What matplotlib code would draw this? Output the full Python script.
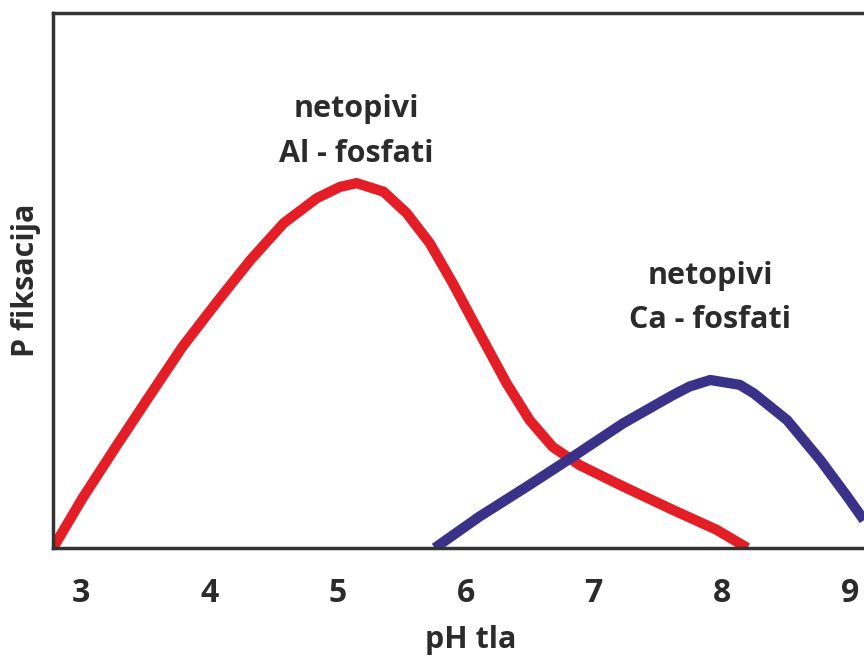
import matplotlib.pyplot as plt

# pH tla / P fiksacija (relativno), procitano sa slike
al_ph = [2.78, 3.01, 3.27, 3.53, 3.79, 4.06, 4.32, 4.58, 4.84, 5.02, 5.15, 5.36, 5.54,
         5.72, 5.90, 6.11, 6.32, 6.50, 6.68, 6.89, 7.23, 7.62, 7.96, 8.20]
al_p = [0.0, 0.93, 1.89, 2.83, 3.76, 4.60, 5.38, 6.07, 6.54, 6.75, 6.82, 6.66, 6.26,
        5.70, 4.95, 4.01, 3.08, 2.39, 1.89, 1.55, 1.15, 0.71, 0.34, 0.0]

ca_ph = [5.76, 6.11, 6.48, 6.84, 7.23, 7.62, 7.75, 7.91, 8.14, 8.25, 8.51, 8.77, 8.98, 9.11]
ca_p = [0.0, 0.59, 1.15, 1.71, 2.33, 2.86, 3.02, 3.14, 3.05, 2.89, 2.39, 1.64, 0.96, 0.52]

ticks = [3, 4, 5, 6, 7, 8, 9]

txt = "#2b2b2b"
font = "Open Sans"

fig = plt.figure(figsize=(8.64, 6.57), dpi=100)
ax = fig.add_axes([53 / 864, 109 / 657, 1 - 53 / 864, 535 / 657])

ax.plot(al_ph, al_p, color="#e41e26", lw=7.4, solid_capstyle="butt", solid_joinstyle="round")
ax.plot(ca_ph, ca_p, color="#3a3288", lw=7.4, solid_capstyle="butt", solid_joinstyle="round")

ax.set_xlim(2.78, 9.11)
ax.set_ylim(0, 10)

for s in ["left", "top", "bottom"]:
    ax.spines[s].set_linewidth(2.5)
    ax.spines[s].set_color("#333333")
ax.spines["right"].set_visible(False)

ax.set_xticks(ticks)
ax.set_xticklabels([str(t) for t in ticks], fontfamily=font, fontweight="bold", fontsize=23, color=txt)
ax.tick_params(axis="x", length=0, pad=21)
ax.set_yticks([])

ax.text(5.15, 7.08, "netopivi\nAl - fosfati", ha="center", va="bottom", fontfamily=font,
        fontweight="bold", fontsize=22, color=txt, linespacing=1.65)
ax.text(7.91, 3.98, "netopivi\nCa - fosfati", ha="center", va="bottom", fontfamily=font,
        fontweight="bold", fontsize=22, color=txt, linespacing=1.6)

fig.text(471 / 864, 9 / 657, "pH tla", ha="center", va="baseline", fontfamily=font,
         fontweight="bold", fontsize=22, color=txt)
fig.text(26 / 864, (657 - 280) / 657, "P fiksacija", ha="center", va="center", rotation=90,
         fontfamily=font, fontweight="bold", fontsize=22, color=txt)

plt.savefig("out.png", dpi=100)
plt.close()
